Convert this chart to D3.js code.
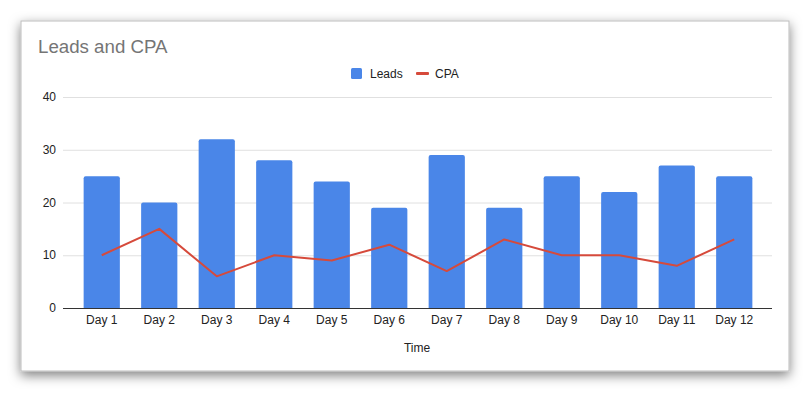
<!DOCTYPE html>
<html>
<head>
<meta charset="utf-8">
<script src="https://cdn.jsdelivr.net/npm/d3@7"></script>
<style>
  body { margin: 0; background: #fff; }
  svg { display: block; font-family: Arial, "Liberation Sans", sans-serif; }
</style>
</head>
<body>
<svg id="chart"></svg>
<script>
// data
const days = ["Day 1", "Day 2", "Day 3", "Day 4", "Day 5", "Day 6", "Day 7", "Day 8", "Day 9", "Day 10", "Day 11", "Day 12"];
const leads = [25, 20, 32, 28, 24, 19, 29, 19, 25, 22, 27, 25];
const cpa = [10, 15, 6, 10, 9, 12, 7, 13, 10, 10, 8, 13];
const yTicks = [0, 10, 20, 30, 40];

const width = 809, height = 393;
const svg = d3.select("#chart").attr("width", width).attr("height", height);

// card with shadow
const defs = svg.append("defs");
const f = defs.append("filter").attr("id", "shadow")
  .attr("x", "-10%").attr("y", "-15%").attr("width", "120%").attr("height", "140%");
f.append("feDropShadow").attr("dx", 0).attr("dy", 4).attr("stdDeviation", 6)
  .attr("flood-color", "#000").attr("flood-opacity", 0.5);

svg.append("rect")
  .attr("x", 21).attr("y", 21).attr("width", 768).attr("height", 350)
  .attr("fill", "#fff").attr("stroke", "#bdbdbd").attr("stroke-width", 1)
  .attr("filter", "url(#shadow)");

// title
svg.append("text")
  .attr("x", 38).attr("y", 53)
  .attr("font-size", 18.7).attr("fill", "#757575")
  .text("Leads and CPA");

// scales
const x = d3.scaleBand().domain(days).range([73, 763]).paddingInner(0.37).paddingOuter(0.185);
const y = d3.scaleLinear().domain([0, 40]).range([308, 97]);

// gridlines
svg.append("g").selectAll("line").data(yTicks.filter(d => d > 0)).join("line")
  .attr("x1", 63).attr("x2", 772)
  .attr("y1", d => y(d) + 0.5).attr("y2", d => y(d) + 0.5)
  .attr("stroke", "#e0e0e0");

// y tick labels
svg.append("g").selectAll("text").data(yTicks).join("text")
  .attr("x", 56).attr("y", d => y(d)).attr("dy", "0.35em")
  .attr("text-anchor", "end").attr("font-size", 12).attr("fill", "#222")
  .text(d => d);

// bars with rounded top corners
const r = 2;
svg.append("g").selectAll("path").data(leads).join("path")
  .attr("fill", "#4a86e8")
  .attr("d", (d, i) => {
    const x0 = x(days[i]), w = x.bandwidth(), y0 = y(d), yb = y(0);
    return `M${x0},${yb}V${y0 + r}Q${x0},${y0} ${x0 + r},${y0}H${x0 + w - r}Q${x0 + w},${y0} ${x0 + w},${y0 + r}V${yb}Z`;
  });

// baseline
svg.append("line")
  .attr("x1", 63).attr("x2", 772)
  .attr("y1", y(0) + 0.5).attr("y2", y(0) + 0.5)
  .attr("stroke", "#333");

// CPA line
const line = d3.line()
  .x((d, i) => x(days[i]) + x.bandwidth() / 2)
  .y(d => y(d));
svg.append("path").datum(cpa)
  .attr("d", line)
  .attr("fill", "none").attr("stroke", "#d64a3b").attr("stroke-width", 2)
  .attr("stroke-linejoin", "round");

// x tick labels
svg.append("g").selectAll("text").data(days).join("text")
  .attr("x", d => x(d) + x.bandwidth() / 2).attr("y", 324)
  .attr("text-anchor", "middle").attr("font-size", 12).attr("fill", "#222")
  .text(d => d);

// x axis title
svg.append("text")
  .attr("x", 417).attr("y", 352)
  .attr("text-anchor", "middle").attr("font-size", 12).attr("fill", "#222")
  .text("Time");

// legend
const legend = svg.append("g");
legend.append("rect").attr("x", 351).attr("y", 68).attr("width", 11).attr("height", 11)
  .attr("rx", 1.5).attr("fill", "#4a86e8");
legend.append("text").attr("x", 370).attr("y", 78).attr("font-size", 12).attr("fill", "#222").text("Leads");
legend.append("rect").attr("x", 416).attr("y", 72).attr("width", 13).attr("height", 3)
  .attr("rx", 1).attr("fill", "#d64a3b");
legend.append("text").attr("x", 435).attr("y", 78).attr("font-size", 12).attr("fill", "#222").text("CPA");
</script>
</body>
</html>
